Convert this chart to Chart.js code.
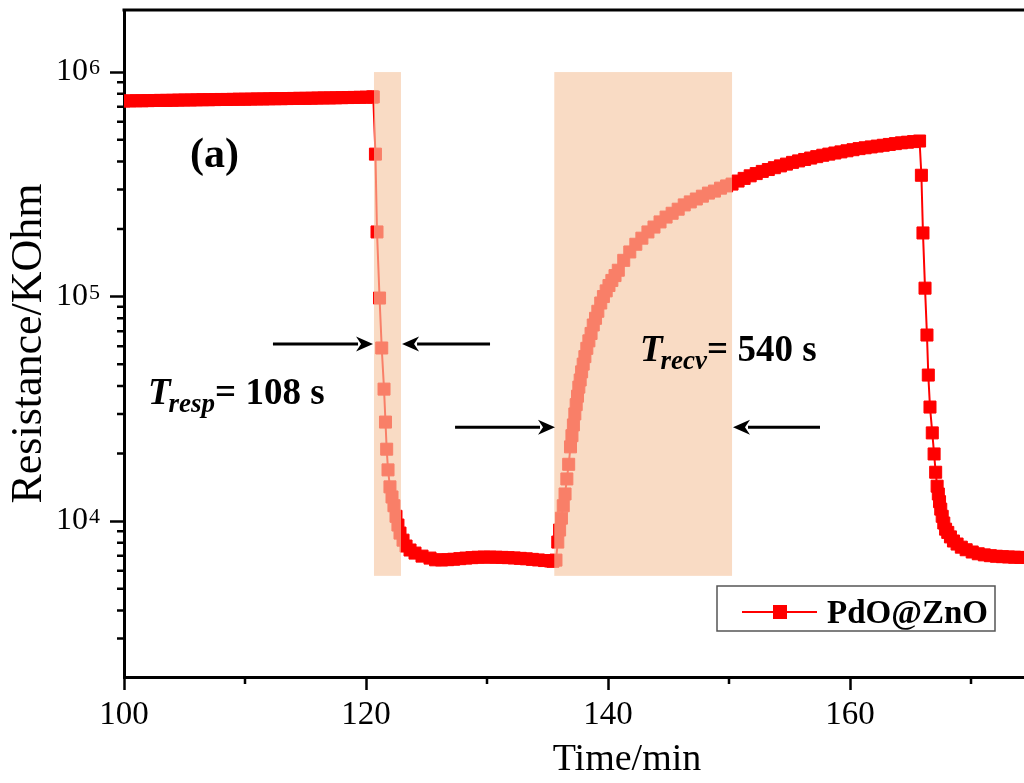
<!DOCTYPE html>
<html>
<head>
<meta charset="utf-8">
<script src="https://cdn.jsdelivr.net/npm/chart.js@4.4.0/dist/chart.umd.min.js"></script>
<style>
  html, body { margin: 0; padding: 0; background: #fff; overflow: hidden; }
  #wrap { width: 1024px; height: 783px; overflow: hidden; }
</style>
</head>
<body>
<div id="wrap"><canvas id="chart" width="1140" height="783"></canvas></div>
<script>
// Dữ liệu: thời gian (phút) và điện trở (KOhm)
const timeMin = [
  100, 100.5, 101, 101.5, 102, 102.5, 103, 103.5, 104, 104.5, 105, 105.5, 106, 106.5, 107, 107.5,
  108, 108.5, 109, 109.5, 110, 110.5, 111, 111.5, 112, 112.5, 113, 113.5, 114, 114.5, 115, 115.5,
  116, 116.5, 117, 117.5, 118, 118.5, 119, 119.5, 120, 120.5, 120.6,
  120.78, 120.91, 121.12, 121.3, 121.49, 121.61, 121.71, 121.82, 121.98,
  122.15, 122.31, 122.48, 122.64, 122.81, 123.06, 123.31, 123.64, 124.05, 124.63, 125.29,
  125.75, 126.25, 126.75, 127.25, 127.75, 128.25, 128.75, 129.25, 129.75, 130.25, 130.75, 131.25,
  131.75, 132.25, 132.75, 133.25, 133.75, 134.25, 134.75, 135.25, 135.45,
  135.7, 135.85, 136.0, 136.15, 136.3, 136.45, 136.6, 136.75, 136.9, 137.02, 137.14, 137.26,
  137.37, 137.48, 137.59, 137.7, 137.82, 137.95, 138.09, 138.25, 138.42, 138.6, 138.78, 138.97,
  139.16, 139.4, 139.62, 139.85, 140.08, 140.32, 140.58, 140.85, 141.3, 141.8, 142.3, 142.8,
  143.3, 143.8, 144.3, 144.8, 145.3, 145.8, 146.3, 146.8, 147.3, 147.8, 148.3, 148.8, 149.3,
  149.8, 150.25,
  150.75, 151.25, 151.75, 152.25, 152.75, 153.25, 153.75, 154.25, 154.75, 155.25, 155.75, 156.25,
  156.75, 157.25, 157.75, 158.25, 158.75, 159.25, 159.75, 160.25, 160.75, 161.25, 161.75, 162.25,
  162.75, 163.25, 163.75, 164.25, 164.75, 165.25, 165.75,
  165.9, 166.03, 166.2, 166.36, 166.47, 166.61, 166.8, 166.95, 167.08,
  167.2, 167.3, 167.4, 167.5, 167.62, 167.75, 167.9, 168.08, 168.3, 168.55, 168.85, 169.2, 169.6,
  170.1, 170.6, 171.1, 171.6, 172.1, 172.6, 173.1, 173.6, 174.1, 174.6, 175.1, 175.6
];
const resistance = [
  743000, 744000, 745000, 745000, 746000, 747000, 748000, 748000, 749000, 750000, 751000, 751000,
  752000, 753000, 753000, 754000, 755000, 755000, 756000, 757000, 757000, 758000, 759000, 759000,
  760000, 761000, 761000, 762000, 763000, 764000, 764000, 765000, 766000, 767000, 767000, 768000,
  769000, 770000, 771000, 772000, 773000, 774000, 775000,
  431000, 194000, 98500, 59000, 38700, 27600, 20900, 16900, 14200,
  12800, 11700, 10500, 9600, 8840, 8220, 7740, 7430, 7200, 6980, 6840,
  6720, 6710, 6730, 6760, 6800, 6840, 6870, 6900, 6910, 6910, 6900, 6890,
  6870, 6850, 6820, 6790, 6750, 6710, 6670, 6640, 6620,
  6700, 8060, 9120, 10300, 11700, 13200, 15400, 17900, 21400, 24000, 26800, 30000,
  33000, 36000, 39500, 42500, 46200, 50000, 54000, 58800, 63500, 68500, 74700, 80000,
  86000, 93600, 100000, 106000, 112000, 118000, 124000, 131000, 145000, 158000, 171000, 182000,
  194000, 204000, 215000, 226000, 235000, 245000, 256000, 264000, 272000, 280000, 289000, 295000, 304000,
  311000, 317000,
  327000, 336000, 345000, 353000, 361000, 368000, 375000, 382000, 389000, 396000, 402000, 408000,
  414000, 420000, 426000, 431000, 436000, 441000, 446000, 451000, 456000, 460000, 464000, 468000,
  472000, 476000, 480000, 484000, 487000, 490000, 493000,
  347000, 192000, 109000, 67400, 44700, 32200, 24700, 19900, 16500,
  14300, 13200, 12200, 11300, 10500, 9800, 9200, 8900, 8500, 8150, 7900, 7650, 7450,
  7280, 7150, 7070, 7010, 6970, 6940, 6920, 6900, 6890, 6880, 6870, 6860
];
const seriesLabel = 'PdO@ZnO';
const xTicks = [100, 120, 140, 160, 180];
const xMinorTicks = [110, 130, 150, 170];
const yTicks = [1e4, 1e5, 1e6];

// Vùng tô màu (phút) và khoảng điện trở của vùng
const respWindow = [120.66, 122.89];
const recvWindow = [135.56, 150.25];
const windowRange = [5700, 1000000];

// Mũi tên: [t bắt đầu, t đầu mũi, điện trở]
const arrows = [
  [112.31, 120.58, 61400],
  [130.25, 122.98, 61400],
  [127.36, 135.62, 26200],
  [157.52, 150.33, 26200]
];

const SERIF = 'Liberation Serif';
Chart.defaults.font.family = SERIF;
Chart.defaults.color = '#000';

function drawArrow(ctx, x0, y0, x1, y1) {
  const dir = Math.sign(x1 - x0);
  const head = 15, half = 7.5;
  ctx.strokeStyle = '#000';
  ctx.fillStyle = '#000';
  ctx.lineWidth = 3;
  ctx.beginPath();
  ctx.moveTo(x0, y0);
  ctx.lineTo(x1 - dir * head, y1);
  ctx.stroke();
  ctx.beginPath();
  ctx.moveTo(x1, y1);
  ctx.lineTo(x1 - dir * (head + 2), y1 - half);
  ctx.lineTo(x1 - dir * (head - 3), y1);
  ctx.lineTo(x1 - dir * (head + 2), y1 + half);
  ctx.closePath();
  ctx.fill();
}

// Chữ T với chỉ số dưới
function drawSubLabel(ctx, x, y, sub, rest) {
  ctx.fillStyle = '#000';
  ctx.textBaseline = 'alphabetic';
  ctx.textAlign = 'left';
  ctx.font = 'italic bold 37px ' + SERIF;
  ctx.fillText('T', x, y);
  x += ctx.measureText('T').width - 2;
  ctx.font = 'italic bold 27px ' + SERIF;
  ctx.fillText(sub, x, y + 8);
  x += ctx.measureText(sub).width;
  ctx.font = 'bold 37px ' + SERIF;
  ctx.fillText(rest, x, y);
}

const annotate = {
  id: 'annotate',
  afterDatasetsDraw(chart) {
    const { ctx, scales: { x, y } } = chart;
    ctx.save();
    ctx.fillStyle = 'rgba(246,199,163,0.64)';
    [respWindow, recvWindow].forEach(w => {
      const x0 = x.getPixelForValue(w[0]), x1 = x.getPixelForValue(w[1]);
      const y0 = y.getPixelForValue(windowRange[1]), y1 = y.getPixelForValue(windowRange[0]);
      ctx.fillRect(x0, y0, x1 - x0, y1 - y0);
    });
    arrows.forEach(a => {
      const py = y.getPixelForValue(a[2]);
      drawArrow(ctx, x.getPixelForValue(a[0]), py, x.getPixelForValue(a[1]), py);
    });
    ctx.restore();
  },
  afterDraw(chart) {
    const { ctx, chartArea, scales: { x, y } } = chart;
    ctx.save();
    // khung trên
    ctx.strokeStyle = '#000';
    ctx.lineWidth = 3;
    ctx.beginPath();
    ctx.moveTo(chartArea.left - 1.5, chartArea.top);
    ctx.lineTo(chartArea.right, chartArea.top);
    ctx.stroke();
    // vạch chia phụ
    ctx.lineWidth = 2.5;
    ctx.beginPath();
    xMinorTicks.forEach(v => {
      const px = x.getPixelForValue(v);
      ctx.moveTo(px, chartArea.bottom);
      ctx.lineTo(px, chartArea.bottom + 7);
    });
    for (let e = 3; e <= 6; e++) {
      for (let k = 2; k <= 9; k++) {
        const v = k * Math.pow(10, e);
        if (v < y.min || v > y.max) continue;
        const py = y.getPixelForValue(v);
        ctx.moveTo(chartArea.left, py);
        ctx.lineTo(chartArea.left - 7, py);
      }
    }
    ctx.stroke();

    // số mũ của nhãn trục y
    ctx.fillStyle = '#000';
    ctx.font = '22px ' + SERIF;
    ctx.textAlign = 'left';
    ctx.textBaseline = 'alphabetic';
    const labelRight = chartArea.left - y.options.grid.tickLength - y.options.ticks.padding;
    yTicks.forEach(v => {
      ctx.fillText(String(Math.round(Math.log10(v))), labelRight + 1, y.getPixelForValue(v) + 2);
    });

    // nhãn
    ctx.font = 'bold 42px ' + SERIF;
    ctx.fillText('(a)', 190, 167);
    drawSubLabel(ctx, 148, 404, 'resp', '= 108 s');
    drawSubLabel(ctx, 640, 361, 'recv', '= 540 s');

    // chú thích
    const ds = chart.data.datasets[0];
    ctx.fillStyle = '#fff';
    ctx.fillRect(717, 586, 278, 45);
    ctx.strokeStyle = '#555';
    ctx.lineWidth = 1.5;
    ctx.strokeRect(717, 586, 278, 45);
    ctx.strokeStyle = ds.borderColor;
    ctx.lineWidth = 2;
    ctx.beginPath();
    ctx.moveTo(742, 612);
    ctx.lineTo(817, 612);
    ctx.stroke();
    ctx.fillStyle = ds.pointBackgroundColor;
    ctx.fillRect(773, 605, 14, 14);
    ctx.fillStyle = '#000';
    ctx.font = 'bold 33px ' + SERIF;
    ctx.fillText(ds.label, 827, 623);
    ctx.restore();
  }
};

const points = timeMin.map((t, i) => ({ x: t, y: resistance[i] }));

new Chart(document.getElementById('chart'), {
  type: 'scatter',
  data: {
    datasets: [{
      label: seriesLabel,
      data: points,
      showLine: true,
      borderColor: '#ff0000',
      borderWidth: 2,
      pointStyle: 'rect',
      pointRadius: 8.5,
      pointBorderWidth: 1,
      pointBackgroundColor: '#ff0000',
      pointBorderColor: '#ff0000',
      tension: 0
    }]
  },
  options: {
    responsive: false,
    animation: false,
    events: [],
    layout: { padding: { top: 10, right: 10, left: 0, bottom: 0 } },
    plugins: { legend: { display: false }, tooltip: { enabled: false } },
    scales: {
      x: {
        type: 'linear',
        min: 100,
        max: 183.14,
        afterBuildTicks: s => { s.ticks = xTicks.map(v => ({ value: v })); },
        afterFit: s => { s.height = 106; s.paddingLeft = 0; s.paddingRight = 0; },
        grid: { drawOnChartArea: false, tickLength: 13, tickWidth: 2.5, tickColor: '#000' },
        border: { color: '#000', width: 3 },
        ticks: { font: { size: 33 }, color: '#000', padding: 6, maxRotation: 0, autoSkip: false },
        title: { display: true, text: 'Time/min', font: { size: 38 }, color: '#000', padding: { top: 0, bottom: 0 } }
      },
      y: {
        type: 'logarithmic',
        min: 2020,
        max: 1890000,
        afterBuildTicks: s => { s.ticks = yTicks.map(v => ({ value: v })); },
        afterFit: s => { s.width = 124; s.paddingTop = 0; s.paddingBottom = 0; },
        grid: { drawOnChartArea: false, tickLength: 14, tickWidth: 2.5, tickColor: '#000' },
        border: { color: '#000', width: 3 },
        ticks: {
          font: { size: 32 },
          color: '#000',
          padding: 22,
          callback: () => '10'
        },
        title: { display: true, text: 'Resistance/KOhm', font: { size: 44 }, color: '#000', padding: { top: 3, bottom: 0 } }
      }
    }
  },
  plugins: [annotate]
});
</script>
</body>
</html>
